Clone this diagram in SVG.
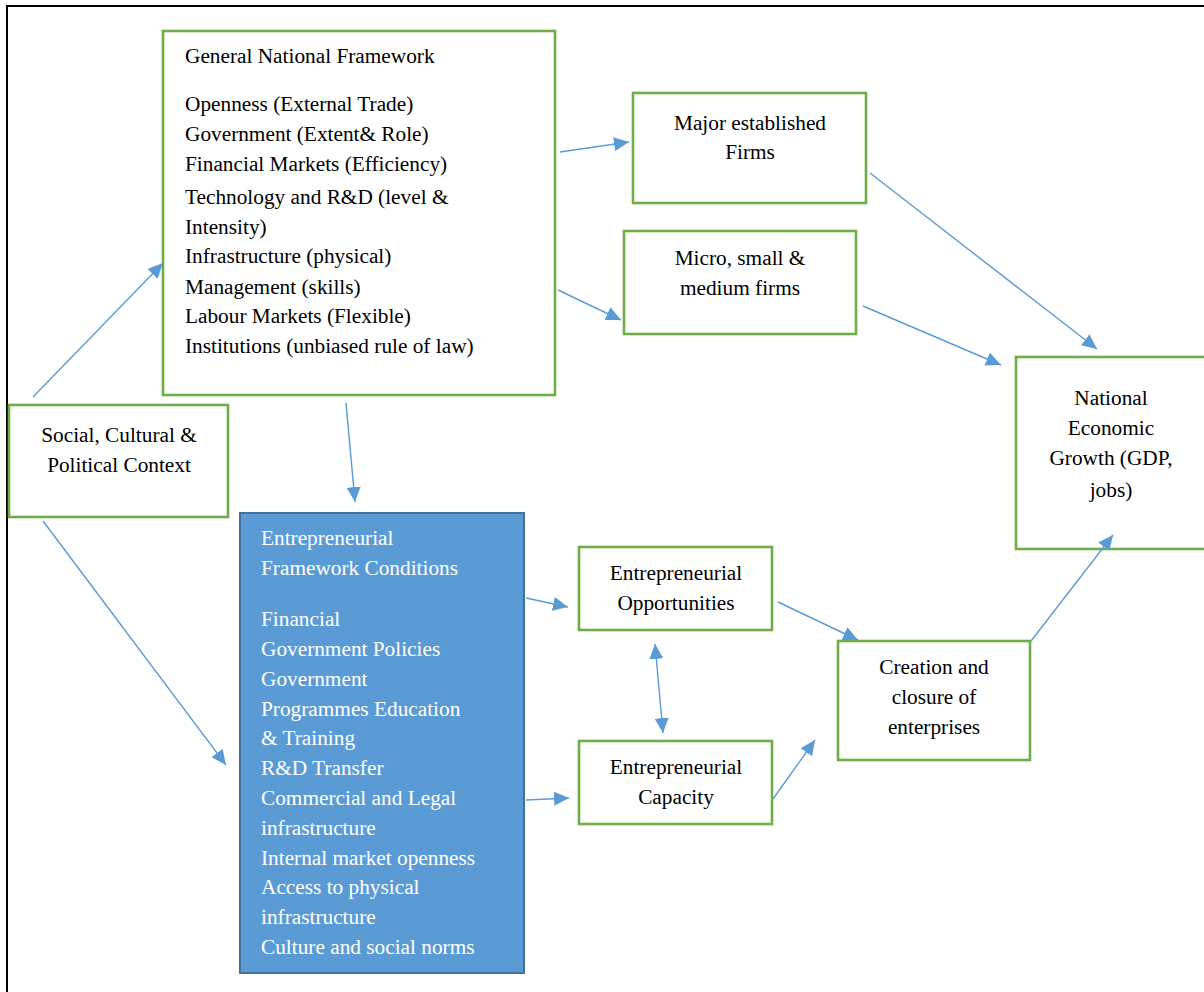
<svg xmlns="http://www.w3.org/2000/svg" width="1204" height="992" viewBox="0 0 1204 992" font-family="Liberation Serif, Times New Roman, DejaVu Serif, serif" font-size="21.3">
<style>
text{font-family:"Liberation Serif","Times New Roman","Tinos","DejaVu Serif",serif;font-size:21.3px;fill:#000}
.g{fill:#fff;stroke:#70AD47;stroke-width:2.6}
.blue{fill:#5B9BD5;stroke:#41719C;stroke-width:2}
text.w{fill:#fff}
.c{text-anchor:middle}
.con line{stroke:#5B9BD5;stroke-width:1.4}
</style>
<defs>
<marker id="ah" markerUnits="userSpaceOnUse" markerWidth="16" markerHeight="14" refX="15" refY="7" orient="auto-start-reverse" viewBox="0 0 16 14">
<path d="M0,0 L15,7 L0,14 z" fill="#5B9BD5"/>
</marker>
</defs>
<rect x="7" y="6" width="1230" height="1010" fill="#fff" stroke="#000" stroke-width="2"/>
<g id="gnf">
<rect class="g" x="163" y="31" width="392" height="364"/>
<text x="185" y="63">General National Framework</text>
<text x="185" y="111">Openness (External Trade)</text>
<text x="185" y="141">Government (Extent&amp; Role)</text>
<text x="185" y="171">Financial Markets (Efficiency)</text>
<text x="185" y="204">Technology and R&amp;D (level &amp;</text>
<text x="185" y="234">Intensity)</text>
<text x="185" y="263">Infrastructure (physical)</text>
<text x="185" y="294">Management (skills)</text>
<text x="185" y="323">Labour Markets (Flexible)</text>
<text x="185" y="353">Institutions (unbiased rule of law)</text>
</g>
<g id="social">
<rect class="g" x="9" y="405" width="219" height="112"/>
<text class="c" x="119" y="442">Social, Cultural &amp;</text>
<text class="c" x="119" y="472">Political Context</text>
</g>
<g id="major">
<rect class="g" x="633" y="93" width="233" height="110"/>
<text class="c" x="750" y="130">Major established</text>
<text class="c" x="750" y="159">Firms</text>
</g>
<g id="micro">
<rect class="g" x="624" y="231" width="232" height="103"/>
<text class="c" x="740" y="265">Micro, small &amp;</text>
<text class="c" x="740" y="295">medium firms</text>
</g>
<g id="neg">
<rect class="g" x="1016" y="357" width="200" height="192"/>
<text class="c" x="1111" y="405">National</text>
<text class="c" x="1111" y="435">Economic</text>
<text class="c" x="1111" y="465">Growth (GDP,</text>
<text class="c" x="1111" y="497">jobs)</text>
</g>
<g id="efc">
<rect class="blue" x="240" y="513" width="284" height="460"/>
<text class="w" x="261" y="545">Entrepreneurial</text>
<text class="w" x="261" y="575">Framework Conditions</text>
<text class="w" x="261" y="626">Financial</text>
<text class="w" x="261" y="656">Government Policies</text>
<text class="w" x="261" y="686">Government</text>
<text class="w" x="261" y="716">Programmes Education</text>
<text class="w" x="261" y="745">&amp; Training</text>
<text class="w" x="261" y="775">R&amp;D Transfer</text>
<text class="w" x="261" y="805">Commercial and Legal</text>
<text class="w" x="261" y="835">infrastructure</text>
<text class="w" x="261" y="865">Internal market openness</text>
<text class="w" x="261" y="894">Access to physical</text>
<text class="w" x="261" y="924">infrastructure</text>
<text class="w" x="261" y="954">Culture and social norms</text>
</g>
<g id="eo">
<rect class="g" x="579" y="547" width="193" height="83"/>
<text class="c" x="676" y="580">Entrepreneurial</text>
<text class="c" x="676" y="610">Opportunities</text>
</g>
<g id="ec">
<rect class="g" x="579" y="741" width="193" height="83"/>
<text class="c" x="676" y="774">Entrepreneurial</text>
<text class="c" x="676" y="804">Capacity</text>
</g>
<g id="creation">
<rect class="g" x="838" y="641" width="192" height="119"/>
<text class="c" x="934" y="674">Creation and</text>
<text class="c" x="934" y="704">closure of</text>
<text class="c" x="934" y="734">enterprises</text>
</g>
<g class="con" id="connectors">
<line x1="33" y1="397" x2="163" y2="263" marker-end="url(#ah)"/>
<line x1="43" y1="521" x2="226" y2="765" marker-end="url(#ah)"/>
<line x1="346" y1="403" x2="355" y2="502" marker-end="url(#ah)"/>
<line x1="560" y1="152" x2="629" y2="142" marker-end="url(#ah)"/>
<line x1="558" y1="290" x2="621" y2="320" marker-end="url(#ah)"/>
<line x1="870" y1="173" x2="1097" y2="349" marker-end="url(#ah)"/>
<line x1="863" y1="306" x2="1001" y2="365" marker-end="url(#ah)"/>
<line x1="526" y1="598" x2="568" y2="607" marker-end="url(#ah)"/>
<line x1="526" y1="800" x2="569" y2="798" marker-end="url(#ah)"/>
<line x1="655" y1="644" x2="663" y2="733" marker-start="url(#ah)" marker-end="url(#ah)"/>
<line x1="778" y1="602" x2="858" y2="640" marker-end="url(#ah)"/>
<line x1="773" y1="799" x2="815" y2="740" marker-end="url(#ah)"/>
<line x1="1031" y1="641" x2="1113" y2="535" marker-end="url(#ah)"/>
</g>
</svg>
